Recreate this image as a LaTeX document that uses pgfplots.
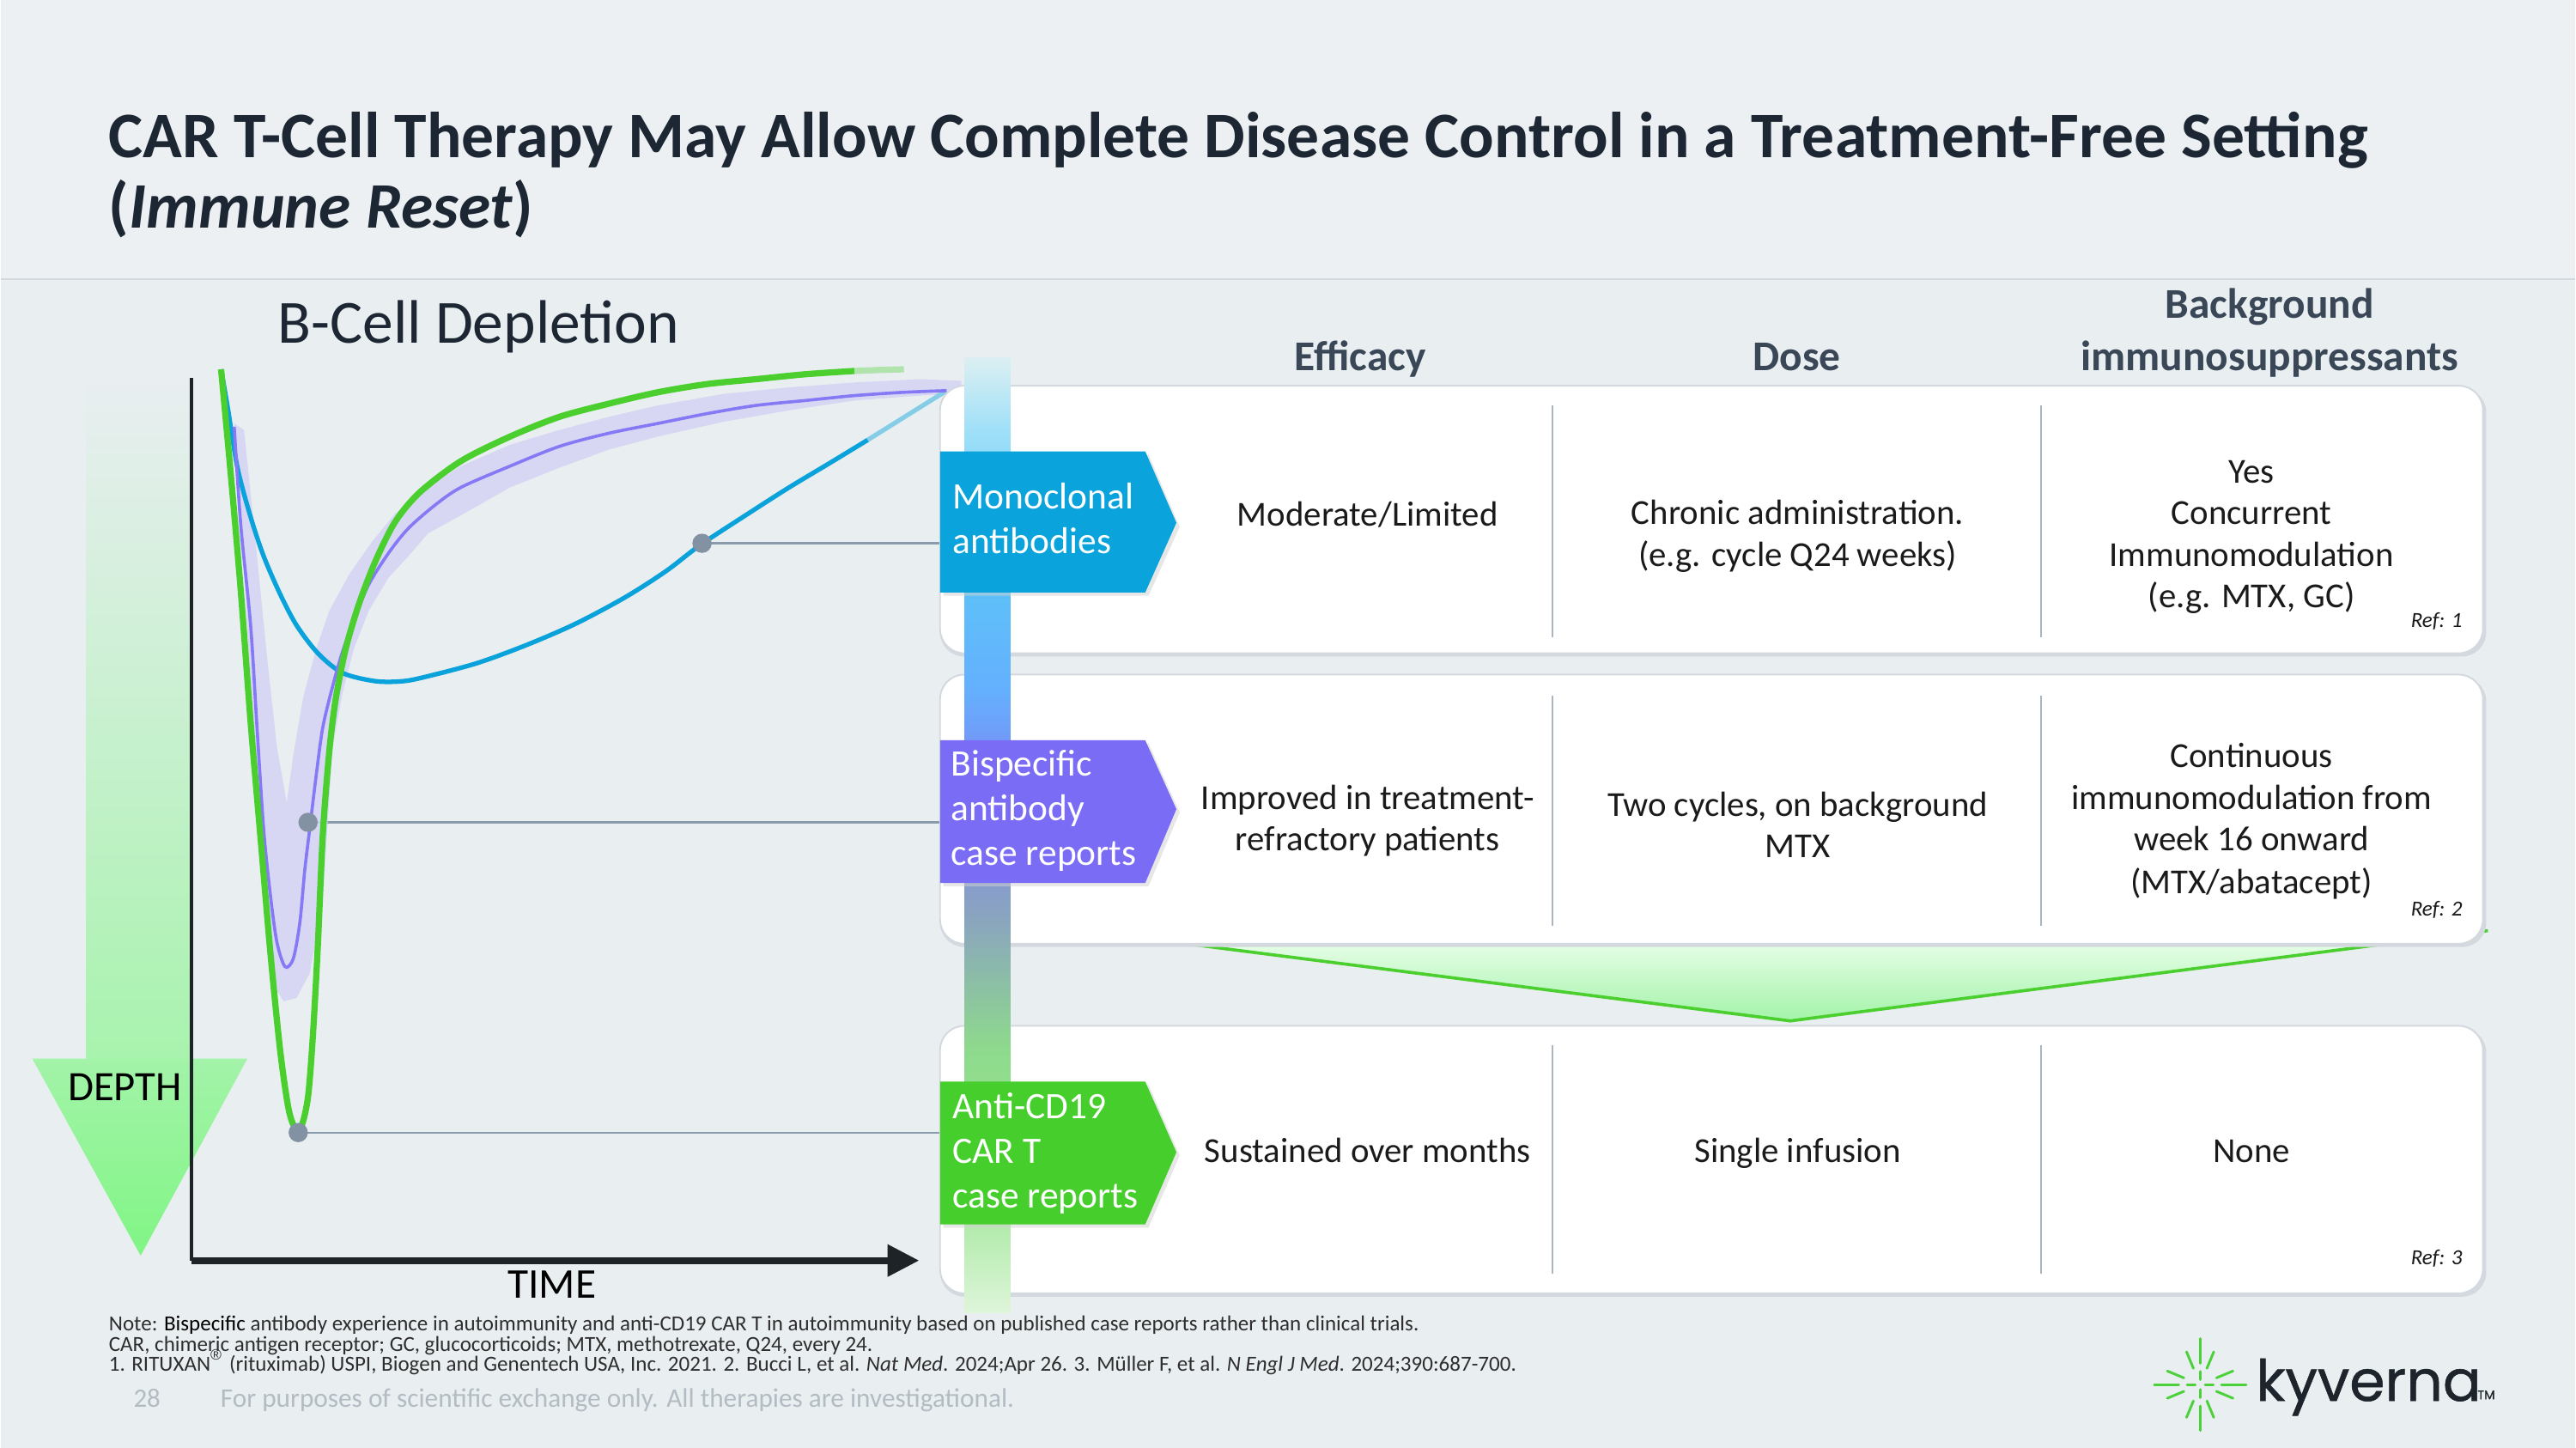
\documentclass[border=0pt]{standalone}
\usepackage{pgfplots}
\pgfplotsset{compat=1.18}
\usepackage{fontspec}
\setmainfont{Carlito}
\newfontfamily\logofont{Poppins}[FakeBold=0.8]
\newfontfamily\symfont{Liberation Sans}
\definecolor{bg}{HTML}{E9EEF1}
\definecolor{bgtop}{HTML}{ECF0F3}
\definecolor{titlec}{HTML}{1C2733}
\definecolor{hdr}{HTML}{394757}
\definecolor{cblue}{HTML}{0AA2DB}
\definecolor{cpurple}{HTML}{8579F5}
\definecolor{tagblue}{HTML}{0BA3DB}
\definecolor{tagpurple}{HTML}{7B6CF6}
\definecolor{cgreen}{HTML}{4ACF2F}
\definecolor{taggreen}{HTML}{46CF2C}
\definecolor{band}{HTML}{D4D4F4}
\definecolor{dotg}{HTML}{8292A3}
\definecolor{connl}{HTML}{8A9BAC}
\definecolor{cellt}{HTML}{1A1A1A}
\definecolor{divl}{HTML}{A9B5C0}
\definecolor{boxl}{HTML}{D3D9DE}
\definecolor{notec}{HTML}{2E2E2E}
\definecolor{footc}{HTML}{B3BBC3}
\definecolor{axdark}{HTML}{1E2328}
\definecolor{logog}{HTML}{4CD13A}
\definecolor{logot}{HTML}{1D242B}
\newcommand\cellfont{\fontsize{6.2}{7.4}\selectfont}
\newcommand\tagfont{\fontsize{6.6}{7.9}\selectfont}
\newcommand\hdrfont{\fontsize{7.5}{9}\selectfont\bfseries}
\newcommand\reffont{\fontsize{3.8}{4.5}\selectfont\itshape}
\newcommand\notefont{\fontsize{3.8}{4.2}\selectfont}
\begin{document}
\begin{tikzpicture}
\begin{axis}[
  scale only axis, width=16cm, height=8.9973cm,
  xmin=0, xmax=1568, ymin=0, ymax=882, y dir=reverse,
  hide axis, clip=false,
]
% ---------- background ----------
\fill[bg] (0,0) rectangle (1568,882);
\fill[bgtop] (0,0) rectangle (1568,170);
\draw[draw=boxl, line width=0.4pt] (0,170) -- (1568,170);
% ---------- title ----------
\node[anchor=base west, inner sep=0, text=titlec, font=\fontsize{11.48}{13}\selectfont\bfseries] at (65,96) {CAR T-Cell Therapy May Allow Complete Disease Control in a Treatment-Free Setting};
\node[anchor=base west, inner sep=0, text=titlec, font=\fontsize{11.48}{13}\selectfont\bfseries] at (65,139) {(\textit{Immune Reset})};
% ---------- left panel ----------
\node[anchor=base west, inner sep=0, text=titlec, font=\fontsize{10.85}{12}\selectfont] at (168,209) {B-Cell Depletion};
% depth arrow
\shade[top color=bg, bottom color=green!28!bg] (52,230) rectangle (117,646);
\shade[top color=green!30!bg, bottom color=green!45!bg] (19,645) -- (150,645) -- (85,765) -- cycle;
\node[anchor=base west, inner sep=0, text=black, font=\fontsize{7.4}{8}\selectfont] at (40,670.5) {DEPTH};
% axes
\addplot[axdark, line width=0.5pt] coordinates {(116,230) (116,768)};
\addplot[axdark, line width=1.15pt] coordinates {(116,768) (542,768)};
\fill[axdark] (540,758) -- (559,768) -- (540,778) -- cycle;
\node[anchor=base west, inner sep=0, text=black, font=\fontsize{7.5}{8}\selectfont] at (308,791) {TIME};
% connectors
\addplot[connl, line width=0.35pt] coordinates {(427,331) (572,331)};
\addplot[connl, line width=0.35pt] coordinates {(187,501) (572,501)};
\addplot[connl, line width=0.35pt] coordinates {(181,690) (572,690)};
% purple band
\addplot[fill=band, draw=none, opacity=0.85] coordinates {
 (142,258) (148,262) (155,330) (162,400) (168,455) (174,489)
 (178,460) (184,425) (192,395) (200,372) (212,350) (226,330) (240,313) (260,297) (280,284) (310,271) (340,262) (370,254) (400,247) (440,240) (480,236) (520,233) (560,231) (585,232)
 (585,240) (560,241) (520,244) (480,250) (440,257) (400,266) (370,274) (340,285) (310,297) (280,314) (260,325) (248,339) (236,352) (224,372) (215,395) (208,422) (202,455) (200,485) (196,548) (188,593) (180,608) (172,610) (166,600) (162,548) (157,480) (152,422) (148,350) (144,290) (142,262)};
% blue curve
\addplot[cblue, line width=0.8pt, smooth] coordinates {
 (134,225) (138,248) (144,285) (152,315) (160,339) (170,362) (180,381) (193,398) (208,410) (228,415) (245,415) (260,412) (290,404) (320,393) (350,380) (380,364) (405,348) (426,332) (455,313) (480,297) (505,282) (528,268)};
\addplot[cblue!45!bg, line width=0.8pt] coordinates {(528,268) (552,253) (576,238)};
% purple curve
\addplot[cpurple, line width=0.55pt, smooth] coordinates {
 (142,260) (146,320) (152,381) (156,445) (160,506) (164,545) (168,574) (173,589) (178,584) (182,562) (185,530) (188,505) (192,472) (196,443) (202,418) (208,397) (216,375) (224,356) (236,337) (248,322) (264,308) (280,297) (310,284) (340,272) (370,264) (400,258) (430,252) (460,247) (490,244) (520,241) (550,239) (576,238)};
% green curve
\addplot[cgreen, line width=1.1pt, smooth] coordinates {
 (134,225) (140,290) (146,360) (152,440) (158,510) (164,580) (170,640) (175,675) (179,687) (183,686) (187,668) (190,630) (193,575) (196,508) (200,457) (204,425) (210,395) (218,368) (228,342) (240,318) (255,300) (280,281) (310,266) (340,254) (370,246) (400,239) (430,234) (460,231) (490,228) (520,226)};
\addplot[cgreen!35!bg, line width=1.1pt] coordinates {(520,226) (535,225.4) (550,225)};
% dots
\addplot[only marks, mark=*, mark size=1.5pt, color=dotg] coordinates {(427,331) (187,501) (181,690)};
% ---------- chevron ----------
\shade[top color=green!6!white, bottom color=green!30!bg] (722,575) -- (1090,622) -- (1515,567) -- cycle;
\draw[cgreen, line width=0.55pt] (722,575) -- (1090,622) -- (1515,567);
% ---------- boxes ----------
\fill[boxl, rounded corners=4.3pt] (572,236.5) rectangle (1514,400);
\fill[white, draw=boxl, line width=0.3pt, rounded corners=4.3pt] (572,235) rectangle (1512,398);
\fill[boxl, rounded corners=4.3pt] (572,412.5) rectangle (1514,577);
\fill[white, draw=boxl, line width=0.3pt, rounded corners=4.3pt] (572,411) rectangle (1512,575);
\fill[boxl, rounded corners=4.3pt] (572,626.5) rectangle (1514,790);
\fill[white, draw=boxl, line width=0.3pt, rounded corners=4.3pt] (572,625) rectangle (1512,788);
% dividers
\draw[divl, line width=0.3pt] (945,247) -- (945,388);
\draw[divl, line width=0.3pt] (1243,247) -- (1243,388);
\draw[divl, line width=0.3pt] (945,424) -- (945,564);
\draw[divl, line width=0.3pt] (1243,424) -- (1243,564);
\draw[divl, line width=0.3pt] (945,637) -- (945,776);
\draw[divl, line width=0.3pt] (1243,637) -- (1243,776);
% gradient bar
\shade[top color=cyan!6!bg, bottom color={rgb,255:red,160;green,224;blue,248}] (587,218) rectangle (615,262);
\shade[top color={rgb,255:red,160;green,224;blue,248}, bottom color={rgb,255:red,92;green,198;blue,246}] (587,262) rectangle (615,340);
\shade[top color={rgb,255:red,92;green,198;blue,246}, bottom color={rgb,255:red,100;green,176;blue,254}] (587,340) rectangle (615,420);
\shade[top color={rgb,255:red,100;green,176;blue,254}, bottom color={rgb,255:red,125;green,134;blue,242}] (587,420) rectangle (615,480);
\shade[top color={rgb,255:red,125;green,134;blue,242}, bottom color={rgb,255:red,138;green,165;blue,190}] (587,480) rectangle (615,560);
\shade[top color={rgb,255:red,138;green,165;blue,190}, bottom color={rgb,255:red,142;green,218;blue,140}] (587,560) rectangle (615,640);
\shade[top color={rgb,255:red,142;green,218;blue,140}, bottom color={rgb,255:red,157;green,230;blue,148}] (587,640) rectangle (615,720);
\shade[top color={rgb,255:red,157;green,230;blue,148}, bottom color={rgb,255:red,222;green,245;blue,218}] (587,720) rectangle (615,800);
% tags
\fill[black!18, opacity=0.5] (574,277) -- (699,277) -- (718,321) -- (699,363) -- (574,363) -- cycle;
\fill[tagblue] (572,275) -- (697,275) -- (716,318.5) -- (697,361) -- (572,361) -- cycle;
\fill[black!18, opacity=0.5] (574,453) -- (699,453) -- (718,495) -- (699,540) -- (574,540) -- cycle;
\fill[tagpurple] (572,451) -- (697,451) -- (716,493) -- (697,538) -- (572,538) -- cycle;
\fill[black!18, opacity=0.5] (574,661) -- (699,661) -- (718,704) -- (699,748) -- (574,748) -- cycle;
\fill[taggreen] (572,659) -- (697,659) -- (716,702) -- (697,746) -- (572,746) -- cycle;
\node[anchor=base west, inner sep=0, text=white, font=\tagfont] at (579,310) {Monoclonal};
\node[anchor=base west, inner sep=0, text=white, font=\tagfont] at (579,337) {antibodies};
\node[anchor=base west, inner sep=0, text=white, font=\tagfont] at (578,473) {Bispecific};
\node[anchor=base west, inner sep=0, text=white, font=\tagfont] at (578,500) {antibody};
\node[anchor=base west, inner sep=0, text=white, font=\tagfont] at (578,527) {case reports};
\node[anchor=base west, inner sep=0, text=white, font=\tagfont] at (579,681.6) {Anti-CD19};
\node[anchor=base west, inner sep=0, text=white, font=\tagfont] at (579,708.8) {CAR T};
\node[anchor=base west, inner sep=0, text=white, font=\tagfont] at (579,736) {case reports};
% headers
\node[anchor=base, inner sep=0, text=hdr, font=\hdrfont] at (828,225.6) {Efficacy};
\node[anchor=base, inner sep=0, text=hdr, font=\hdrfont] at (1094,225.6) {Dose};
\node[anchor=base, inner sep=0, text=hdr, font=\hdrfont] at (1382,194) {Background};
\node[anchor=base, inner sep=0, text=hdr, font=\hdrfont] at (1382,225.6) {immunosuppressants};
% row 1
\node[anchor=base, inner sep=0, text=cellt, font=\cellfont] at (832.5,320.5) {Moderate/Limited};
\node[anchor=base, inner sep=0, text=cellt, font=\cellfont] at (1094.5,319.7) {Chronic administration.};
\node[anchor=base, inner sep=0, text=cellt, font=\cellfont] at (1094.5,345) {(e.g. cycle Q24 weeks)};
\node[anchor=base, inner sep=0, text=cellt, font=\cellfont] at (1371,294.4) {Yes};
\node[anchor=base, inner sep=0, text=cellt, font=\cellfont] at (1371,319.7) {Concurrent};
\node[anchor=base, inner sep=0, text=cellt, font=\cellfont] at (1371,345) {Immunomodulation};
\node[anchor=base, inner sep=0, text=cellt, font=\cellfont] at (1371,370) {(e.g. MTX, GC)};
\node[anchor=base east, inner sep=0, text=cellt, font=\reffont] at (1500,382) {Ref: 1};
% row 2
\node[anchor=base, inner sep=0, text=cellt, font=\cellfont] at (832.5,493) {Improved in treatment-};
\node[anchor=base, inner sep=0, text=cellt, font=\cellfont] at (832.5,518.4) {refractory patients};
\node[anchor=base, inner sep=0, text=cellt, font=\cellfont] at (1094.5,497.4) {Two cycles, on background};
\node[anchor=base, inner sep=0, text=cellt, font=\cellfont] at (1094.5,522.7) {MTX};
\node[anchor=base, inner sep=0, text=cellt, font=\cellfont] at (1371,467.5) {Continuous};
\node[anchor=base, inner sep=0, text=cellt, font=\cellfont] at (1371,493) {immunomodulation from};
\node[anchor=base, inner sep=0, text=cellt, font=\cellfont] at (1371,518.5) {week 16 onward};
\node[anchor=base, inner sep=0, text=cellt, font=\cellfont] at (1371,544.5) {(MTX/abatacept)};
\node[anchor=base east, inner sep=0, text=cellt, font=\reffont] at (1500,558) {Ref: 2};
% row 3
\node[anchor=base, inner sep=0, text=cellt, font=\cellfont] at (832.5,708.3) {Sustained over months};
\node[anchor=base, inner sep=0, text=cellt, font=\cellfont] at (1094.5,708.3) {Single infusion};
\node[anchor=base, inner sep=0, text=cellt, font=\cellfont] at (1371,708.3) {None};
\node[anchor=base east, inner sep=0, text=cellt, font=\reffont] at (1500,770.5) {Ref: 3};
% ---------- footnotes ----------
\node[anchor=base west, inner sep=0, text=notec, font=\notefont] at (65,811) {Note: \textcolor{black}{Bispecific} antibody experience in autoimmunity and anti-CD19 CAR T in autoimmunity based on published case reports rather than clinical trials.};
\node[anchor=base west, inner sep=0, text=notec, font=\notefont] at (65,823.3) {CAR, chimeric antigen receptor; GC, glucocorticoids; MTX, methotrexate, Q24, every 24.};
\node[anchor=base west, inner sep=0, text=notec, font=\notefont] at (65,835.5) {1. RITUXAN\textsuperscript{\symfont ®} (rituximab) USPI, Biogen and Genentech USA, Inc. 2021. 2. Bucci L, et al. \textit{Nat Med}. 2024;Apr 26. 3. Müller F, et al. \textit{N Engl J Med}. 2024;390:687-700.};
\node[anchor=base west, inner sep=0, text=footc, font=\fontsize{4.7}{5}\selectfont] at (80,857.3) {28};
\node[anchor=base west, inner sep=0, text=footc, font=\fontsize{4.75}{5}\selectfont] at (133,857.3) {For purposes of scientific exchange only. All therapies are investigational.};
% ---------- logo ----------
\draw[logog, line width=0.45pt, line cap=round] (1349.6,847.7)--(1359.7,851.9);
\draw[logog, line width=0.45pt, line cap=round] (1343.8,853.5)--(1348.0,863.6);
\draw[logog, line width=0.45pt, line cap=round] (1335.6,853.5)--(1331.4,863.6);
\draw[logog, line width=0.45pt, line cap=round] (1329.8,847.7)--(1319.7,851.9);
\draw[logog, line width=0.45pt, line cap=round] (1329.8,839.5)--(1319.7,835.3);
\draw[logog, line width=0.45pt, line cap=round] (1335.6,833.7)--(1331.4,823.6);
\draw[logog, line width=0.45pt, line cap=round] (1343.8,833.7)--(1348.0,823.6);
\draw[logog, line width=0.45pt, line cap=round] (1349.6,839.5)--(1359.7,835.3);
\draw[logog, line width=0.45pt, line cap=round] (1339.7,830.6)--(1339.7,815.6);
\draw[logog, line width=0.45pt, line cap=round] (1339.7,856.6)--(1339.7,871.6);
\draw[logog, line width=0.45pt, line cap=round] (1326.7,843.6)--(1311.7,843.6);
\draw[logog, line width=0.45pt, line cap=round] (1352.7,843.6)--(1367.7,843.6);
\draw[logog, line width=0.45pt, line cap=round] (1339.7,840.6)--(1339.7,835.6);
\draw[logog, line width=0.45pt, line cap=round] (1339.7,846.6)--(1339.7,851.6);
\draw[logog, line width=0.45pt, line cap=round] (1336.7,843.6)--(1331.7,843.6);
\draw[logog, line width=0.45pt, line cap=round] (1342.7,843.6)--(1347.7,843.6);
\node[anchor=base west, inner sep=0, text=logot, font=\logofont\fontsize{10.1}{11}\selectfont] at (1373,853.5) {kyverna};
\node[anchor=base west, inner sep=0, text=logot, font=\logofont\fontsize{2.2}{3}\selectfont] at (1508,852.5) {TM};
\end{axis}
\end{tikzpicture}
\end{document}
